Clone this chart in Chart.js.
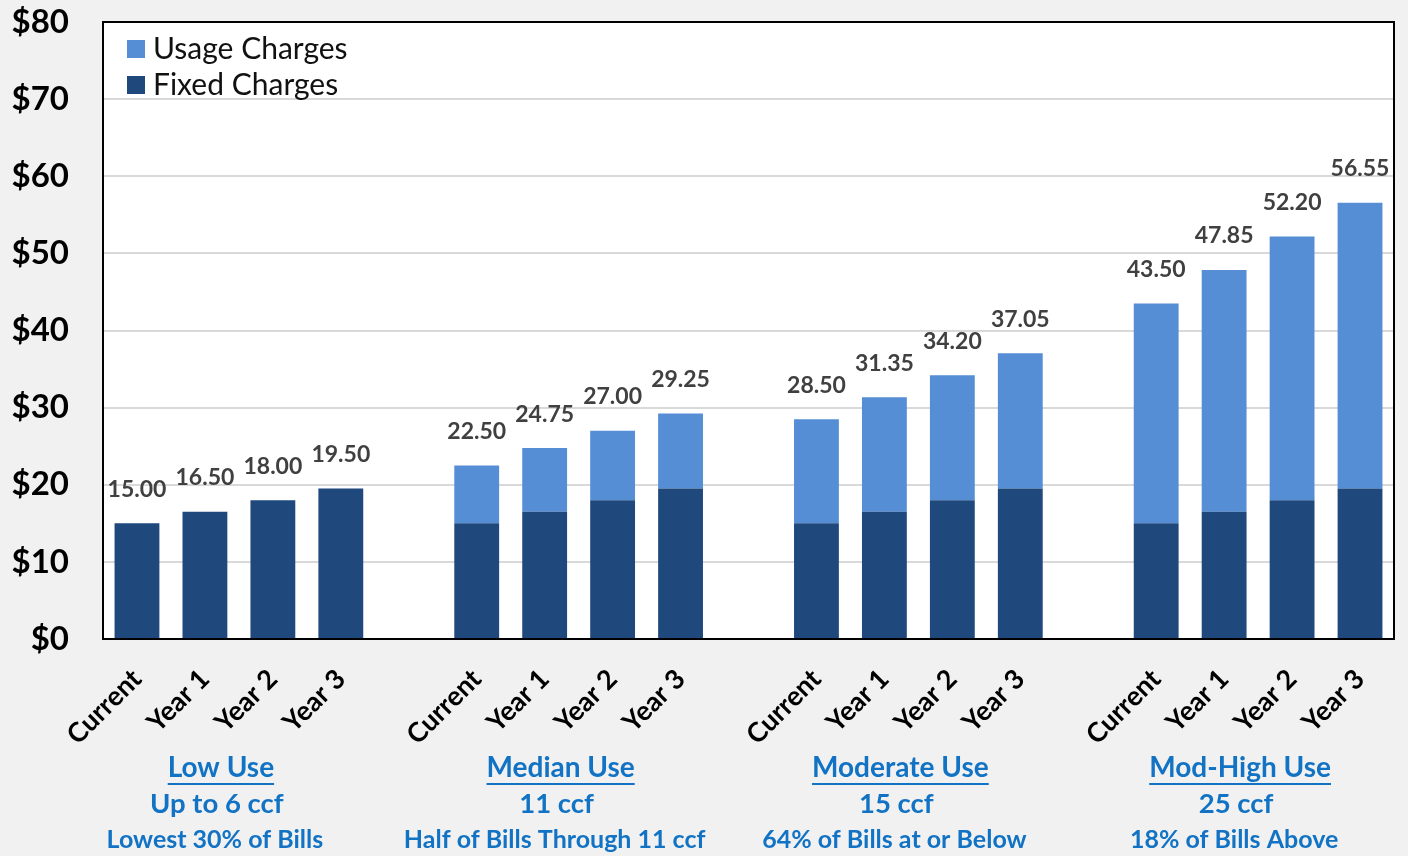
<!DOCTYPE html>
<html><head><meta charset="utf-8">
<script src="https://cdn.jsdelivr.net/npm/chart.js@4.4.1/dist/chart.umd.min.js"></script>
<style>html,body{margin:0;padding:0;background:#f1f1f1;overflow:hidden}</style>
</head><body>
<canvas id="c" width="1408" height="856"></canvas>
<script>
// ---- data ----
const periods = ['Current', 'Year 1', 'Year 2', 'Year 3'];
const groupTitles = ['Low Use', 'Median Use', 'Moderate Use', 'Mod-High Use'];
const groupSubtitles = ['Up to 6 ccf', '11 ccf', '15 ccf', '25 ccf'];
const groupNotes = ['Lowest 30% of Bills', 'Half of Bills Through 11 ccf', '64% of Bills at or Below', '18% of Bills Above'];
const fixedCharges = [15.00, 16.50, 18.00, 19.50];
const usageLow = [0, 0, 0, 0];
const usageMedian = [7.50, 8.25, 9.00, 9.75];
const usageModerate = [13.50, 14.85, 16.20, 17.55];
const usageModHigh = [28.50, 31.35, 34.20, 37.05];
const yTicks = [0, 10, 20, 30, 40, 50, 60, 70, 80];

const usageGroups = [usageLow, usageMedian, usageModerate, usageModHigh];
const labels = [], fixedData = [], usageData = [], groupStart = [];
usageGroups.forEach((u, g) => {
  if (g > 0) { labels.push(''); fixedData.push(null); usageData.push(null); }
  groupStart.push(labels.length);
  periods.forEach((p, i) => { labels.push(p); fixedData.push(fixedCharges[i]); usageData.push(u[i]); });
});

const FONT = 'Lato, "DejaVu Sans", sans-serif';
const blueText = '#1273c4';

const decor = {
  id: 'decor',
  beforeDraw(chart) {
    const { ctx, chartArea: a } = chart;
    ctx.save();
    ctx.fillStyle = '#f1f1f1';
    ctx.fillRect(0, 0, chart.width, chart.height);
    ctx.fillStyle = '#ffffff';
    ctx.fillRect(a.left, a.top, a.right - a.left, a.bottom - a.top);
    ctx.restore();
  },
  afterDatasetsDraw(chart) {
    const { ctx, chartArea: a, scales } = chart;
    const x = scales.x, y = scales.y;
    ctx.save();
    // border
    ctx.strokeStyle = '#000';
    ctx.lineWidth = 2;
    ctx.strokeRect(a.left, a.top, a.right - a.left, a.bottom - a.top);
    // totals
    ctx.font = 'bold 23px ' + FONT;
    ctx.fillStyle = '#404040';
    ctx.textAlign = 'center';
    ctx.textBaseline = 'middle';
    labels.forEach((l, i) => {
      if (fixedData[i] == null) return;
      const tot = fixedData[i] + usageData[i];
      ctx.fillText(tot.toFixed(2), x.getPixelForValue(i), y.getPixelForValue(tot) - 34);
    });
    // legend
    const items = [chart.data.datasets[1], chart.data.datasets[0]];
    items.forEach((ds, k) => {
      const ly = a.top + 27 + k * 36;
      ctx.fillStyle = ds.backgroundColor;
      ctx.fillRect(a.left + 24, ly - 9, 18, 18);
      ctx.fillStyle = '#111';
      ctx.font = '30px ' + FONT;
      ctx.textAlign = 'left';
      ctx.fillText(ds.label, a.left + 50, ly);
    });
    // group captions
    ctx.fillStyle = blueText;
    ctx.strokeStyle = blueText;
    ctx.textAlign = 'center';
    groupStart.forEach((s, g) => {
      const cx = (x.getPixelForValue(s + 1) + x.getPixelForValue(s + 2)) / 2;
      ctx.font = 'bold 28px ' + FONT;
      const t1x = cx - 18;
      ctx.fillText(groupTitles[g], t1x, 768);
      const w = ctx.measureText(groupTitles[g]).width;
      ctx.lineWidth = 2;
      ctx.beginPath();
      ctx.moveTo(t1x - w / 2, 784);
      ctx.lineTo(t1x + w / 2, 784);
      ctx.stroke();
      ctx.font = 'bold 27.5px ' + FONT;
      ctx.fillText(groupSubtitles[g], cx - 22, 804);
      ctx.font = 'bold 25px ' + FONT;
      ctx.fillText(groupNotes[g], cx - 24, 840);
    });
    ctx.restore();
  }
};

new Chart(document.getElementById('c'), {
  type: 'bar',
  data: {
    labels: labels,
    datasets: [
      { label: 'Fixed Charges', data: fixedData, backgroundColor: '#1f497d', stack: 's' },
      { label: 'Usage Charges', data: usageData, backgroundColor: '#558ed5', stack: 's' }
    ]
  },
  options: {
    responsive: false,
    animation: false,
    devicePixelRatio: 1,
    layout: { padding: { top: 22, right: 14, left: 0, bottom: 0 } },
    plugins: { legend: { display: false }, tooltip: { enabled: false } },
    datasets: { bar: { barPercentage: 1, categoryPercentage: 0.66 } },
    scales: {
      x: {
        stacked: true,
        grid: { display: false, drawTicks: false },
        border: { display: false },
        ticks: {
          autoSkip: false, maxRotation: 45, minRotation: 45,
          color: '#000', font: { family: FONT, size: 27, weight: 'bold' }, padding: 24
        },
        afterFit(s) { s.height = 217; s.paddingTop = 0; }
      },
      y: {
        stacked: true,
        min: 0, max: 80,
        afterBuildTicks(s) { s.ticks = yTicks.map(v => ({ value: v })); },
        grid: { color: '#d9d9d9', lineWidth: 2, drawTicks: false },
        border: { display: false },
        ticks: {
          color: '#000', padding: 34,
          font: { family: FONT, size: 33, weight: 'bold' },
          callback: v => '$' + v
        },
        afterFit(s) { s.width = 103; s.paddingTop = 0; s.paddingBottom = 0; }
      }
    }
  },
  plugins: [decor]
});
</script>
</body></html>
